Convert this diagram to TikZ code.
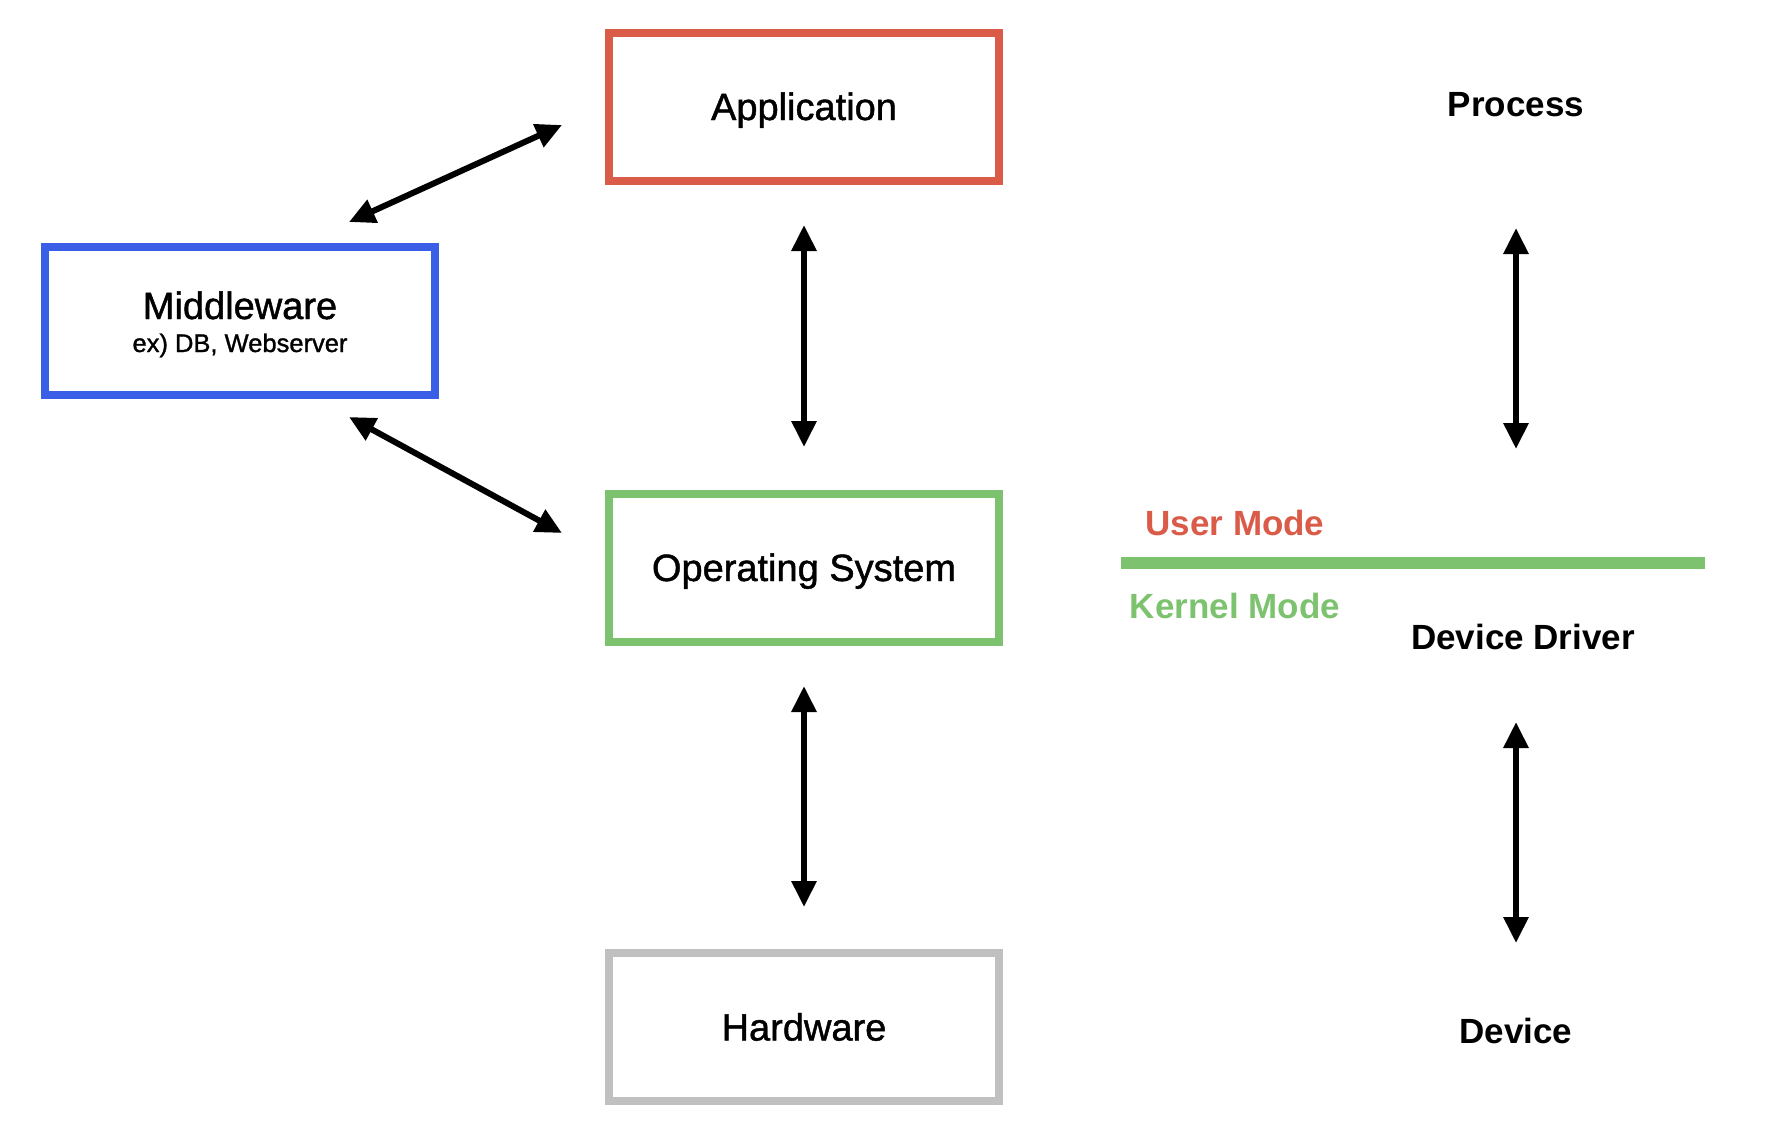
\documentclass[tikz,border=0pt]{standalone}
\usepackage{fontspec}
\setmainfont{Liberation Sans}
\newfontfamily\medfont[FakeBold=1.2]{Liberation Sans}
\usetikzlibrary{arrows.meta}
\definecolor{appred}{HTML}{D95B48}
\definecolor{mwblue}{HTML}{3A5FE6}
\definecolor{osgreen}{HTML}{7DC36F}
\definecolor{hwgray}{HTML}{C0C0C0}
\tikzset{
  layerbox/.style={line width=8pt, minimum width=390pt, minimum height=148pt, inner sep=0pt, align=center, text=black, text height=27pt, text depth=0pt, font=\medfont\fontsize{38}{42}\selectfont},
  mwtext/.style={inner sep=0pt, anchor=base, text=black},
  lbl/.style={font=\fontsize{35}{40}\selectfont\bfseries, inner sep=0pt},
  dbl/.style={line width=6pt, {Triangle[length=26pt,width=24pt]}-{Triangle[length=26pt,width=24pt]}}
}
\begin{document}
\begin{tikzpicture}[x=1pt,y=-1pt]
\useasboundingbox (0,0) rectangle (1786,1146);
\node[layerbox, draw=appred] (app) at (804,106.5) {Application};
\node[layerbox, draw=mwblue] (mw) at (240,320.5) {};
\node[mwtext, font=\medfont\fontsize{38}{42}\selectfont] (mwt) at (240,319) {Middleware};
\node[mwtext, font=\medfont\fontsize{25.5}{28}\selectfont] (mws) at (240,352) {ex) DB, Webserver};
\node[layerbox, draw=osgreen] (os) at (804,567.5) {Operating System};
\node[layerbox, draw=hwgray] (hw) at (804,1027) {Hardware};

\node[lbl] (proc) at (1516,105) {Process};
\node[lbl] (dd) at (1523,637) {Device Driver};
\node[lbl] (dev) at (1516,1031) {Device};
\node[lbl, text=appred] (um) at (1235,523) {User Mode};
\node[lbl, text=osgreen] (km) at (1235,606) {Kernel Mode};

\coordinate (lineL) at (1121,563);
\coordinate (lineR) at (1705,563);
\draw[osgreen, line width=12pt] (lineL) -- (lineR);

\coordinate (a1) at (349,222);
\coordinate (a2) at (562,125);
\coordinate (b1) at (349,417);
\coordinate (b2) at (562,533);
\coordinate (c1) at (804,225);
\coordinate (c2) at (804,447);
\coordinate (d1) at (804,686);
\coordinate (d2) at (804,907);
\coordinate (e1) at (1516,228);
\coordinate (e2) at (1516,449);
\coordinate (f1) at (1516,722);
\coordinate (f2) at (1516,943);

\draw[dbl] (a1) -- (a2);
\draw[dbl] (b1) -- (b2);
\draw[dbl] (c1) -- (c2);
\draw[dbl] (d1) -- (d2);
\draw[dbl] (e1) -- (e2);
\draw[dbl] (f1) -- (f2);
\end{tikzpicture}
\end{document}
